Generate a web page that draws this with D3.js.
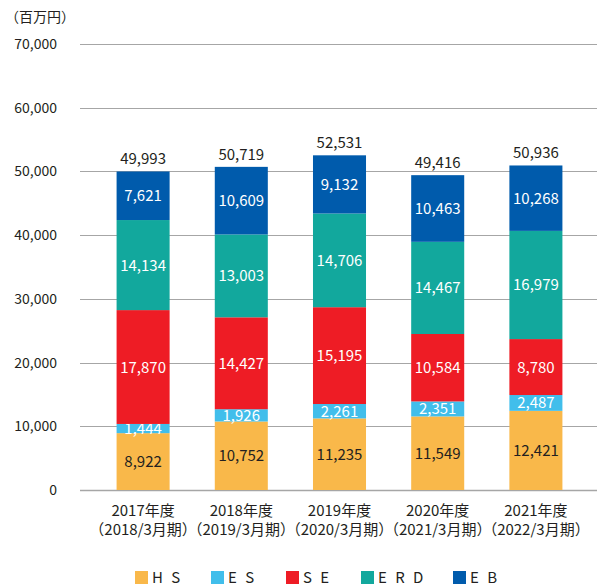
<!DOCTYPE html>
<html>
<head>
<meta charset="utf-8">
<script src="https://cdn.jsdelivr.net/npm/d3@7"></script>
<style>
  body { margin: 0; background: #fff; }
  svg text { font-family: "Noto Sans CJK JP", "Noto Sans", sans-serif; }
</style>
</head>
<body>
<svg id="chart" width="597" height="588"></svg>
<script>
var years = ["2017年度", "2018年度", "2019年度", "2020年度", "2021年度"]
var periods = ["（2018/3月期）", "（2019/3月期）", "（2020/3月期）", "（2021/3月期）", "（2022/3月期）"]
var seriesNames = ["H S", "E S", "S E", "E R D", "E B"]
var seriesColors = ["#F9B84A", "#41BEEB", "#EE1C25", "#12A89D", "#005BAC"]
var hs = [8922, 10752, 11235, 11549, 12421]
var es = [1444, 1926, 2261, 2351, 2487]
var se = [17870, 14427, 15195, 10584, 8780]
var erd = [14134, 13003, 14706, 14467, 16979]
var eb = [7621, 10609, 9132, 10463, 10268]
var totals = [49993, 50719, 52531, 49416, 50936]
var yTicks = [0, 10000, 20000, 30000, 40000, 50000, 60000, 70000]

var svg = d3.select("#chart")
var fmt = d3.format(",")

var x = d3.scaleBand().domain(years).range([94, 585]).paddingInner(0.46).paddingOuter(0.23)
var y = d3.scaleLinear().domain([0, 70000]).range([490, 44])

// gridlines
svg.append("g")
  .selectAll("line")
  .data(yTicks)
  .enter()
  .append("line")
  .attr("x1", 80)
  .attr("x2", 597)
  .attr("y1", function(d){ return Math.round(y(d)) + 0.5 })
  .attr("y2", function(d){ return Math.round(y(d)) + 0.5 })
  .attr("stroke", "#a6a6a6")
  .attr("stroke-width", function(d){ return d === 0 ? 1.5 : 1 })

// y labels
svg.append("g")
  .selectAll("text")
  .data(yTicks)
  .enter()
  .append("text")
  .attr("x", 57)
  .attr("y", function(d){ return y(d) + 5 })
  .attr("text-anchor", "end")
  .attr("font-size", 14)
  .attr("fill", "#231F20")
  .text(function(d){ return fmt(d) })

svg.append("text")
  .attr("x", 5)
  .attr("y", 22)
  .attr("font-size", 14)
  .attr("fill", "#231F20")
  .text("（百万円）")

var rows = years.map(function(yr, i){
  return {year: yr, s0: hs[i], s1: es[i], s2: se[i], s3: erd[i], s4: eb[i]}
})
var stack = d3.stack().keys(["s0", "s1", "s2", "s3", "s4"])
var layers = stack(rows)

var g = svg.append("g")
layers.forEach(function(layer, k){
  g.selectAll(".bar" + k)
    .data(layer)
    .enter()
    .append("rect")
    .attr("x", function(d){ return x(d.data.year) })
    .attr("y", function(d){ return y(d[1]) })
    .attr("width", x.bandwidth())
    .attr("height", function(d){ return y(d[0]) - y(d[1]) })
    .style("fill", seriesColors[k])

  g.selectAll(".lab" + k)
    .data(layer)
    .enter()
    .append("text")
    .attr("x", function(d){ return x(d.data.year) + x.bandwidth() / 2 })
    .attr("y", function(d){ return (y(d[0]) + y(d[1])) / 2 + 5.5 })
    .attr("text-anchor", "middle")
    .attr("font-size", 15)
    .attr("fill", k === 0 ? "#231F20" : "#fff")
    .text(function(d){ return fmt(d[1] - d[0]) })
})

// totals
svg.append("g")
  .selectAll("text")
  .data(totals)
  .enter()
  .append("text")
  .attr("x", function(d, i){ return x(years[i]) + x.bandwidth() / 2 })
  .attr("y", function(d){ return y(d) - 7 })
  .attr("text-anchor", "middle")
  .attr("font-size", 15)
  .attr("fill", "#231F20")
  .text(function(d){ return fmt(d) })

// x labels
var xl = svg.append("g")
years.forEach(function(yr, i){
  var cx = x(yr) + x.bandwidth() / 2
  xl.append("text")
    .attr("x", cx).attr("y", 516)
    .attr("text-anchor", "middle").attr("font-size", 15).attr("fill", "#231F20")
    .text(yr)
  xl.append("text")
    .attr("x", cx).attr("y", 535)
    .attr("text-anchor", "middle").attr("font-size", 15).attr("fill", "#231F20")
    .text(periods[i])
})

// legend
var legendX = [135, 211, 286, 361, 453]
var lg = svg.append("g")
seriesNames.forEach(function(n, i){
  lg.append("rect")
    .attr("x", legendX[i]).attr("y", 571)
    .attr("width", 13).attr("height", 13)
    .style("fill", seriesColors[i])
  lg.append("text")
    .attr("x", legendX[i] + 17).attr("y", 583)
    .attr("font-size", 15).attr("fill", "#231F20")
    .attr("letter-spacing", 2.5)
    .text(n)
})
</script>
</body>
</html>
